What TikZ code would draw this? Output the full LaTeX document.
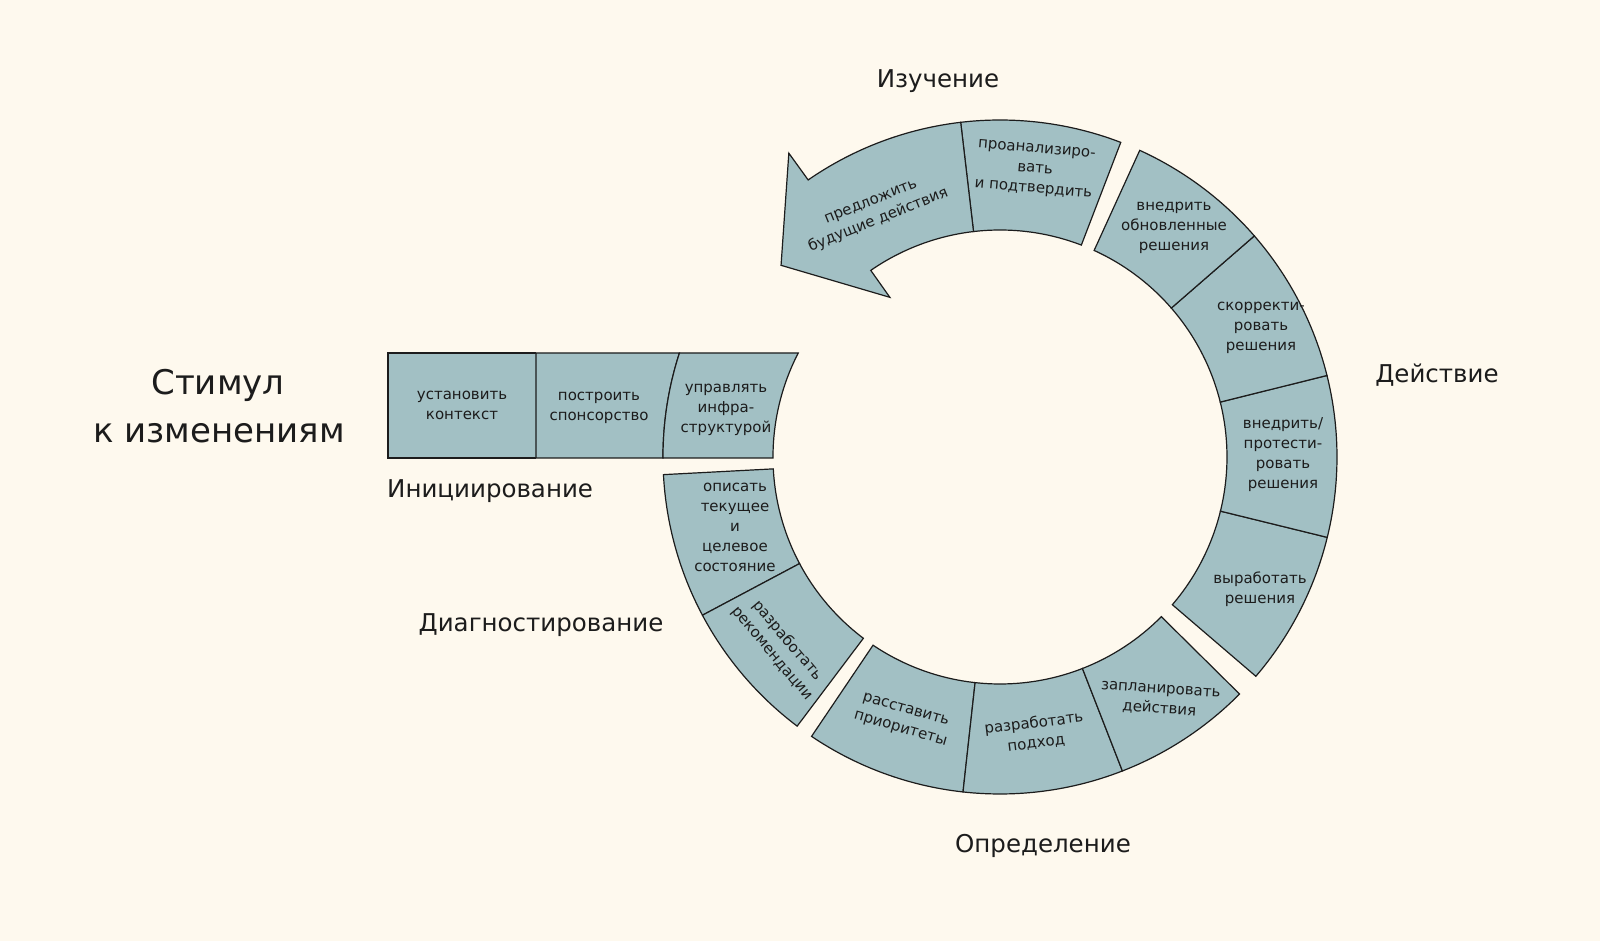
\documentclass[tikz,border=0pt]{standalone}
\usepackage{fontspec}
\setmainfont{DejaVu Sans}
\definecolor{bgcream}{HTML}{FEF9EE}
\definecolor{segfill}{HTML}{A2C0C4}
\definecolor{ink}{HTML}{1C1C1C}
\newcommand{\rIn}{227}
\newcommand{\rOut}{337}
\newcommand{\ringseg}[2]{\draw[seg] (#1:\rIn) arc[start angle=#1,end angle=#2,radius=\rIn] -- (#2:\rOut) arc[start angle=#2,end angle=#1,radius=\rOut] -- cycle;}
\tikzset{
  seg/.style={draw=ink, fill=segfill, line width=1.2pt, line join=miter},
  segtext/.style={font=\fontsize{15}{20}\selectfont, align=center, text=ink, inner sep=0pt},
  phase/.style={font=\fontsize{24.5}{30}\selectfont, text=ink, inner sep=0pt},
  bigtitle/.style={font=\fontsize{34}{48}\selectfont, text=ink, inner sep=0pt}
}
\begin{document}
\begin{tikzpicture}[x=1pt,y=1pt]
\useasboundingbox (-1000,-484) rectangle (600,457);
\fill[bgcream] (-1000,-484) rectangle (600,457);

% --- Initiation bar
\draw[seg] (-464,104) -- (-612,104) -- (-612,-1) -- (-464,-1);
\draw[seg] (-464,104) -- (162.02:\rOut) arc[start angle=162.02,end angle=180.17,radius=\rOut] -- (-464,-1) -- cycle;
\draw[seg] (162.02:\rOut) -- (152.73:\rIn) arc[start angle=152.73,end angle=180.25,radius=\rIn] -- (180.17:\rOut) arc[start angle=180.17,end angle=162.02,radius=\rOut] -- cycle;

% --- Diagnostics
\ringseg{183}{208}
\ringseg{208}{233}
% --- Definition
\ringseg{236}{263.7}
\ringseg{263.7}{291.3}
\ringseg{291.3}{315.3}
% --- Action
\ringseg{319.4}{346.2}
\ringseg{346.2}{374}
\ringseg{374}{401}
\ringseg{401}{425.5}
% --- Learning
\ringseg{69}{96.7}
\draw[seg] (96.7:\rIn) arc[start angle=96.7,end angle=124.7,radius=\rIn] -- (124.6:194) -- (138.8:291) -- (124.8:370) -- (124.7:\rOut) arc[start angle=124.7,end angle=96.7,radius=\rOut] -- cycle;

% --- segment texts
\node[segtext] (t1) at (-538,51.5) {установить\\контекст};
\node[segtext] (t2) at (-401,49) {построить\\спонсорство};
\node[segtext] (t3) at (-274,47) {управлять\\инфра-\\структурой};
\node[segtext] (t4) at (-265,-70) {описать\\текущее\\и\\целевое\\состояние};
\node[segtext, rotate=-50] (t5) at (-220,-190) {разработать\\рекомендации};
\node[segtext, rotate=-16] (t6) at (-97,-263) {расставить\\приоритеты};
\node[segtext, rotate=7] (t7) at (35,-276) {разработать\\подход};
\node[segtext, rotate=-4] (t8) at (160,-243) {запланировать\\действия};
\node[segtext] (t9) at (260,-132) {выработать\\решения};
\node[segtext] (t10) at (283,2) {внедрить/\\протести-\\ровать\\решения};
\node[segtext] (t11) at (261,129) {скорректи-\\ровать\\решения};
\node[segtext] (t12) at (174,229) {внедрить\\обновленные\\решения};
\node[segtext, rotate=-5] (t13) at (35,287) {проанализиро-\\вать\\и подтвердить};
\node[segtext, rotate=22] (t14) at (-125,245) {предложить\\будущие действия};

% --- phase labels
\node[phase, anchor=base] (lLearn) at (-62,369) {Изучение};
\node[phase, anchor=base] (lAct) at (437,74) {Действие};
\node[phase, anchor=base] (lDef) at (43,-395) {Определение};
\node[phase, anchor=base] (lDiag) at (-459,-175) {Диагностирование};
\node[phase, anchor=base west] (lInit) at (-613,-41) {Инициирование};

% --- title
\node[bigtitle, anchor=base] (title1) at (-782,62) {Стимул};
\node[bigtitle, anchor=base] (title2) at (-781,14) {к изменениям};
\end{tikzpicture}
\end{document}
